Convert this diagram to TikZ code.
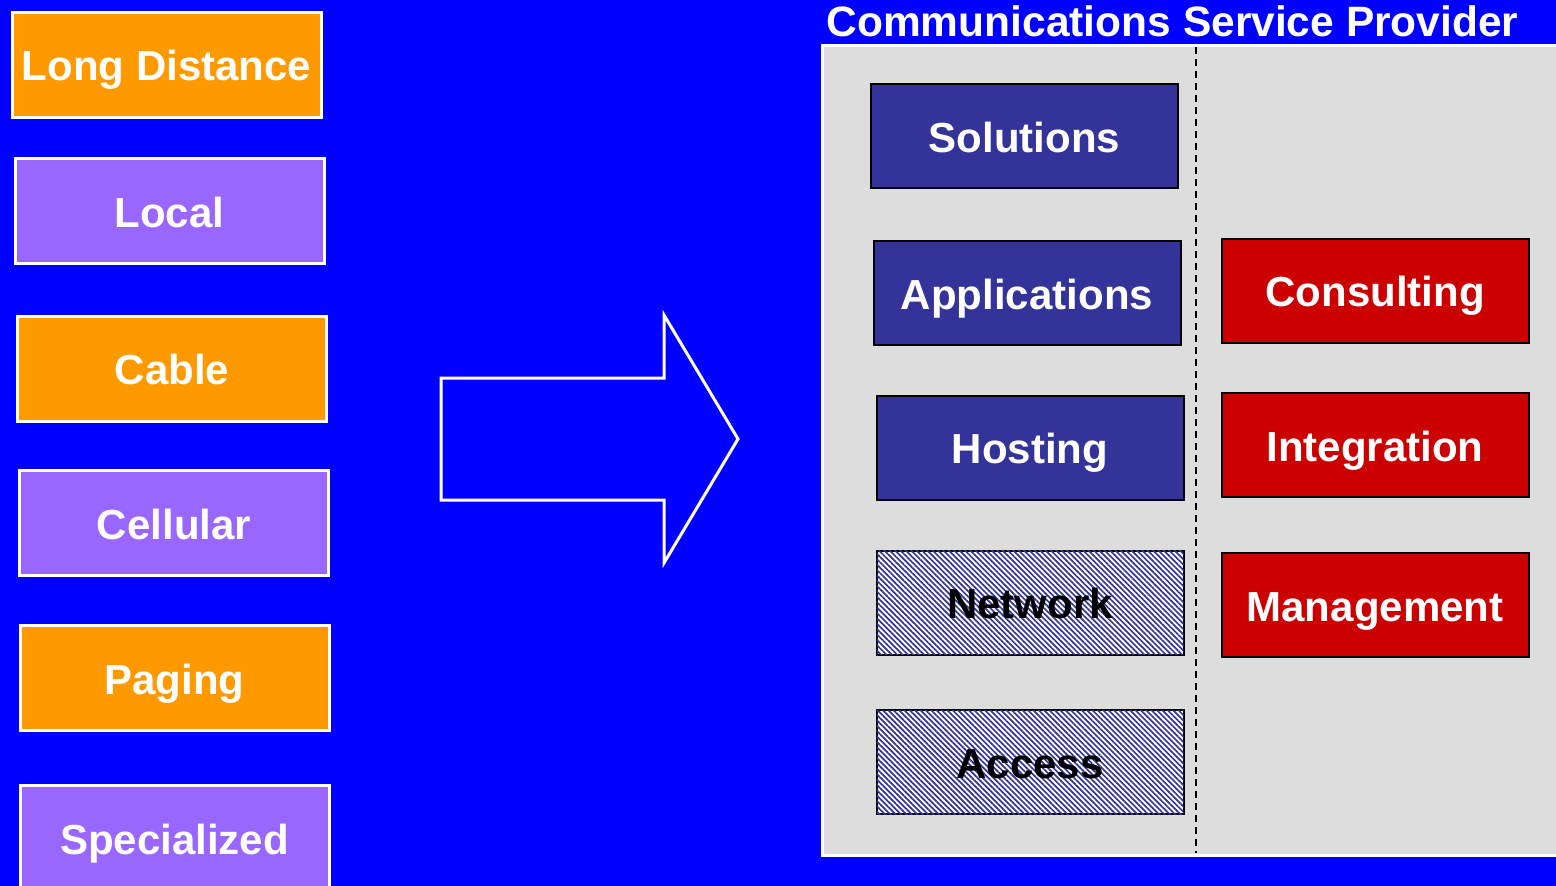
\documentclass[tikz,border=0pt]{standalone}
\usepackage{fontspec}
\setmainfont{Liberation Sans}
\usetikzlibrary{patterns.meta}
\definecolor{bgblue}{HTML}{0000FF}
\definecolor{ltdorange}{HTML}{FF9900}
\definecolor{ltdpurple}{HTML}{9966FF}
\definecolor{svcblue}{HTML}{333399}
\definecolor{svcred}{HTML}{CC0000}
\definecolor{panelgrey}{HTML}{DDDDDD}
\tikzset{
  label font/.style={font=\fontsize{42}{48}\selectfont\bfseries, text height=32pt, text depth=0pt},
  carrier/.style={draw=white, line width=3pt, minimum width=309pt, minimum height=105pt,
    text=white, label font, inner sep=0pt},
  orangebox/.style={carrier, fill=ltdorange},
  purplebox/.style={carrier, fill=ltdpurple},
  service/.style={draw=black, line width=2pt, minimum width=307pt, minimum height=104pt,
    text=white, label font, inner sep=0pt},
  bluebox/.style={service, fill=svcblue},
  redbox/.style={service, fill=svcred},
  hatchbox/.style={service, text=black, fill=white,
    postaction={pattern={Lines[angle=-45, distance=3.8pt, line width=1.7pt]}, pattern color=svcblue}},
  outline arrow/.style={draw=white, line width=3pt, fill=bgblue, line join=miter},
}
\begin{document}
\begin{tikzpicture}[x=1pt, y=-1pt]
  \useasboundingbox (0,0) rectangle (1556,886);
  \clip (0,0) rectangle (1556,886);
  \fill[bgblue] (0,0) rectangle (1556,886);

  % carrier categories
  \node[orangebox] (ld)    at (166.5, 64.5) {Long Distance};
  \node[purplebox] (local) at (169.5, 211)  {Local};
  \node[orangebox] (cable) at (172, 368.5)  {Cable};
  \node[purplebox] (cell)  at (174, 523)    {Cellular};
  \node[orangebox] (pag)   at (174.5, 678)  {Paging};
  \node[purplebox] (spec)  at (174.5, 838)  {Specialized};

  % transition arrow
  \draw[outline arrow] (441,378) -- (664,378) -- (664,315) -- (738,439)
    -- (664,563) -- (664,500) -- (441,500) -- cycle;

  % provider panel
  \node[anchor=base, text=white, font=\fontsize{42.5}{48}\selectfont\bfseries]
    (title) at (1172.5, 36) {Communications Service Provider};
  \draw[draw=white, line width=3pt, fill=panelgrey] (822,45) rectangle (1570,855);
  \coordinate (divtop) at (1196,47);
  \coordinate (divbot) at (1196,853);
  \draw[black, line width=1.5pt, dash pattern=on 7pt off 5pt] (divtop) -- (divbot);

  % service layers
  \node[bluebox]  (sol)  at (1024.5, 136)   {Solutions};
  \node[bluebox]  (app)  at (1027, 293)     {Applications};
  \node[bluebox]  (host) at (1030, 447.5)   {Hosting};
  \node[hatchbox] (net)  at (1030, 602.5)   {Network};
  \node[hatchbox] (acc)  at (1030, 762)     {Access};

  % professional services
  \node[redbox] (cons)  at (1375, 290.5) {Consulting};
  \node[redbox] (integ) at (1375, 445)   {Integration};
  \node[redbox] (mgmt)  at (1375, 605)   {Management};
\end{tikzpicture}
\end{document}
